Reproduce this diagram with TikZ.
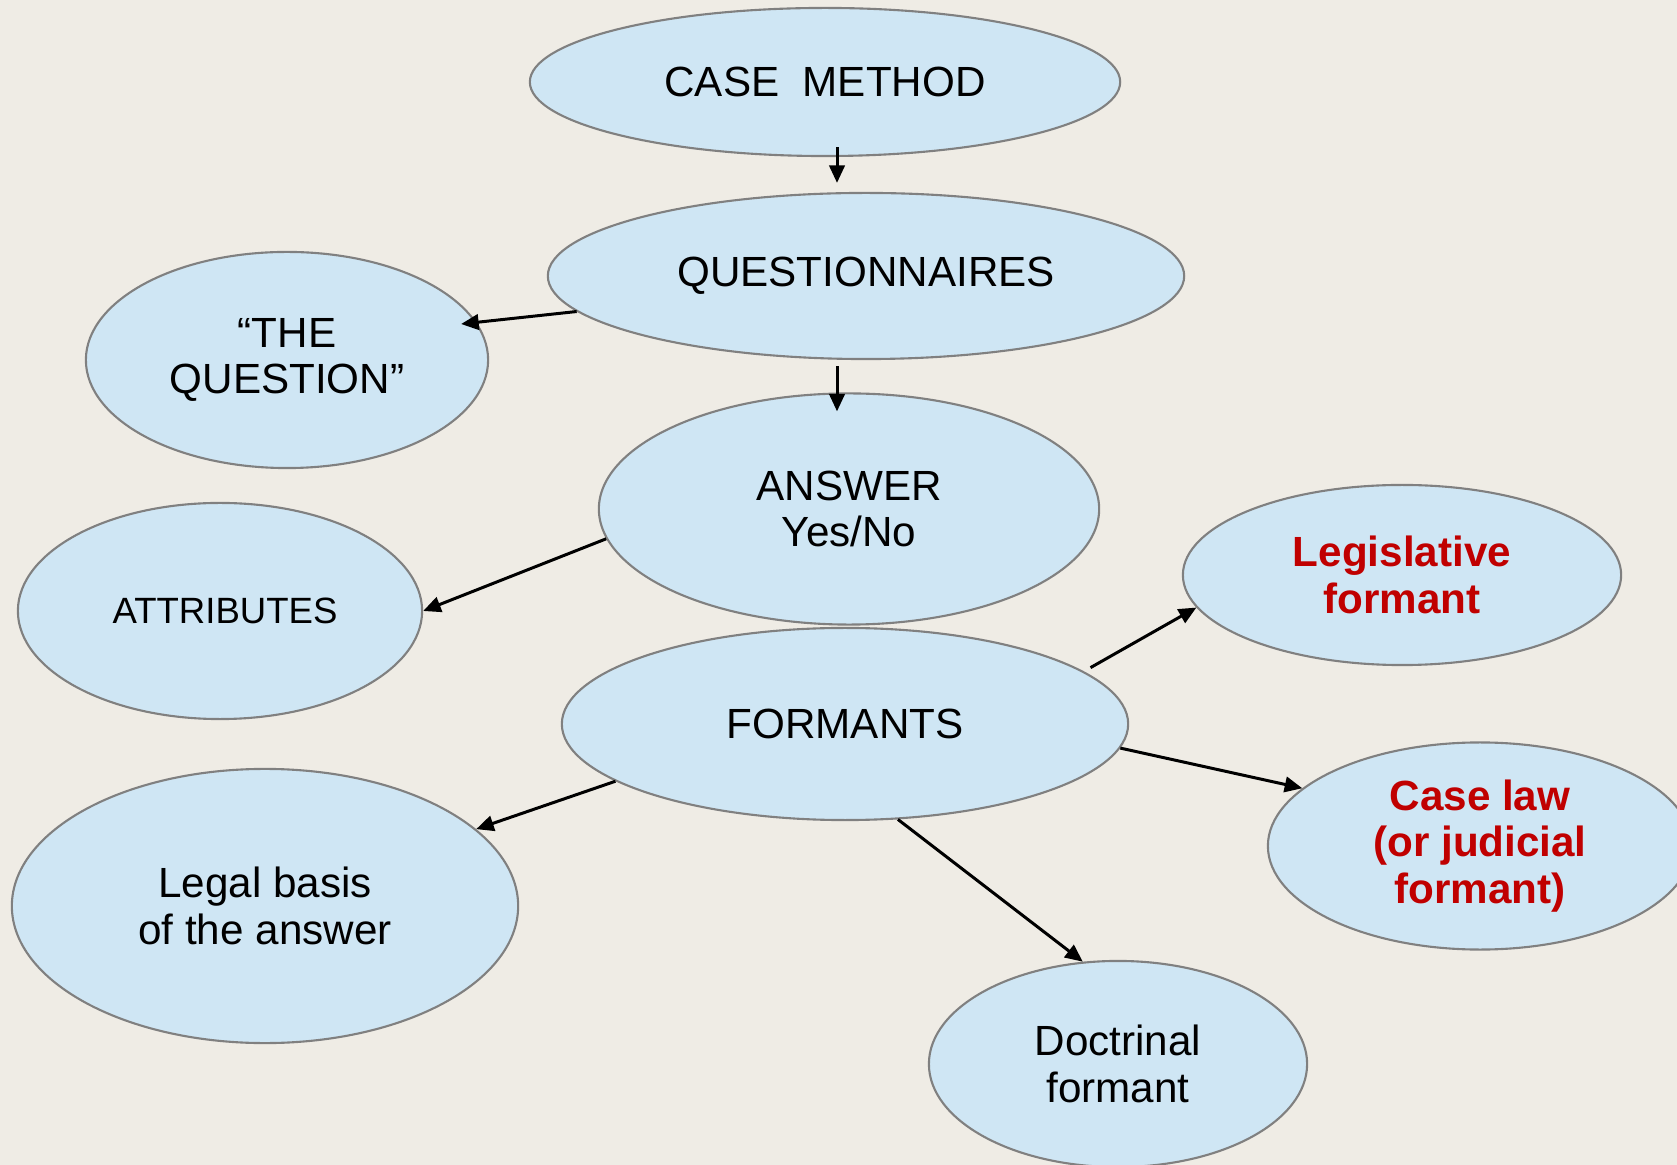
\documentclass[tikz,border=0pt]{standalone}
\usepackage{fontspec}
\setmainfont{Liberation Sans}
\usetikzlibrary{arrows.meta, calc, shapes.geometric}
\definecolor{slidebg}{RGB}{239,236,229}
\definecolor{bubblefill}{RGB}{207,230,244}
\definecolor{bubbleline}{RGB}{128,128,128}
\definecolor{formantred}{RGB}{192,0,0}
\tikzset{
  every node/.style={font=\fontsize{12}{13.2}\selectfont},
  bubble/.style={
    ellipse, draw=bubbleline, line width=0.6pt, fill=bubblefill,
    inner sep=0pt, align=center, text=black
  },
  redtext/.style={text=formantred, font=\fontsize{12}{13.2}\selectfont\bfseries},
  arr/.style={-{Triangle[length=5pt,width=4.4pt]}, line width=0.85pt},
}

\begin{document}
\begin{tikzpicture}[x=0.01cm, y=-0.01cm]
  % Slide background
  \fill[slidebg] (0,0) rectangle (1677,1165);
  \useasboundingbox (0,0) rectangle (1677,1165);

  % Ellipses
  \node[bubble, minimum width=5.9cm, minimum height=1.48cm] (cm) at (825,82) {CASE~~METHOD};
  \node[bubble, minimum width=6.36cm, minimum height=1.66cm] (q) at (866,276) {QUESTIONNAIRES};
  \node[bubble, minimum width=4.02cm, minimum height=2.16cm] (tq) at (287,360) {“THE\\QUESTION”};
  \node[bubble, minimum width=5.0cm, minimum height=2.31cm] (ans) at (849,509) {ANSWER\\Yes/No};
  \node[bubble, minimum width=4.04cm, minimum height=2.16cm, font=\fontsize{10.4}{12}\selectfont] (att) at (220,611) {\hspace*{0.1cm}ATTRIBUTES};
  \node[bubble, redtext, minimum width=4.38cm, minimum height=1.80cm] (leg) at (1402,575) {Legislative\\formant};
  \node[bubble, minimum width=5.66cm, minimum height=1.92cm] (form) at (845,724) {FORMANTS};
  \node[bubble, redtext, minimum width=4.24cm, minimum height=2.07cm] (cl) at (1480,846) {Case law\\(or judicial\\formant)};
  \node[bubble, minimum width=5.06cm, minimum height=2.74cm] (lb) at (265,906) {Legal basis\\of the answer};
  \node[bubble, minimum width=3.78cm, minimum height=2.06cm] (doc) at (1118,1064) {Doctrinal\\formant};

  % Arrows
  \draw[arr] ($(cm.south)+(12,-10)$) -- ($(q.north)+(-29,-9)$);
  \draw[arr] (q.187) -- ($(tq.12)+(-14,4)$);
  \draw[arr] ($(q.south)+(-29,6)$) -- ($(ans.north)+(-12,19)$);
  \draw[arr] (ans.187) -- (att.east);
  \draw[arr] ($(form.13)+(10,-2)$) -- (leg.189);
  \draw[arr] (form.355) -- (cl.162);
  \draw[arr] (form.194) -- (lb.20);
  \draw[arr] (form.299) -- (doc.109);
\end{tikzpicture}
\end{document}
